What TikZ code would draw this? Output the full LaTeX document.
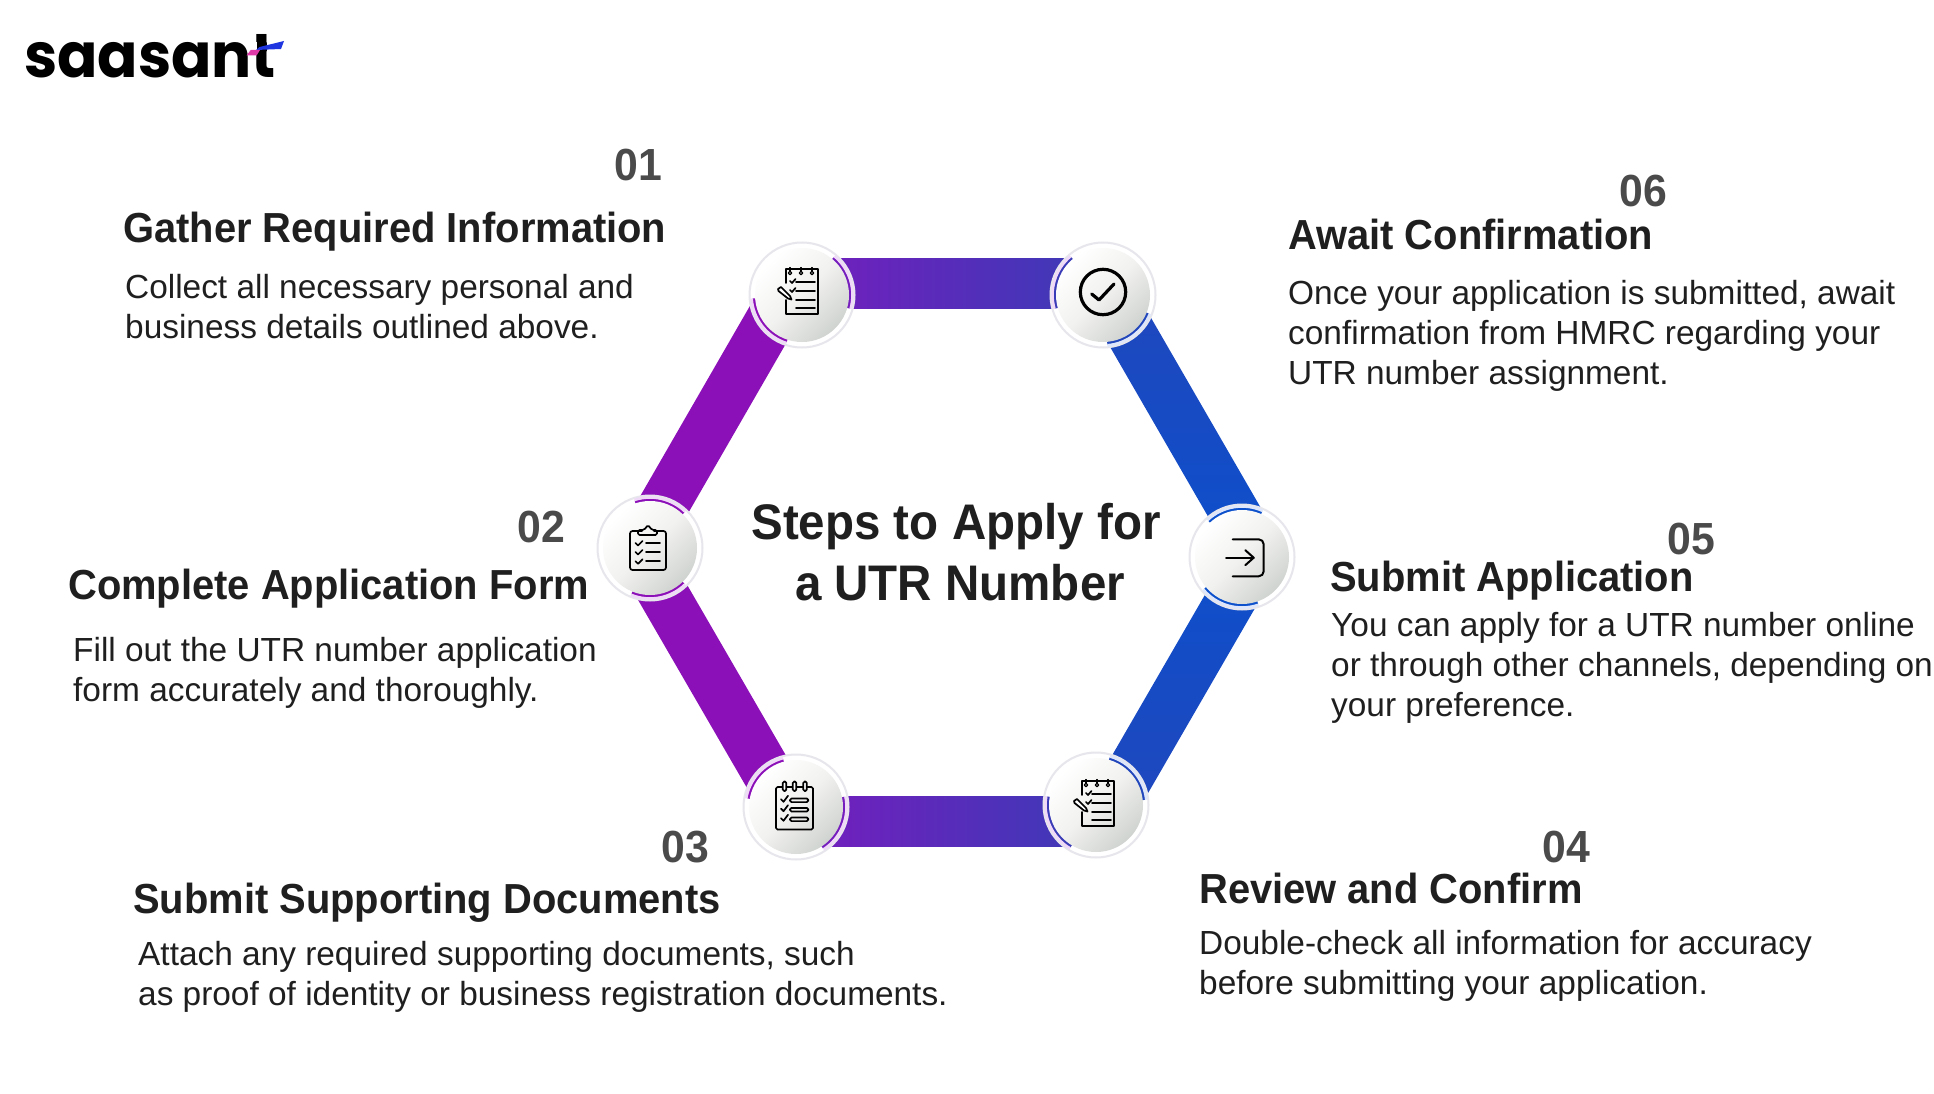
\documentclass[tikz,border=0pt]{standalone}
\usepackage{fontspec}
\setmainfont{Liberation Sans}
\newfontfamily\logofont{Poppins}[FakeStretch=0.96]
\newfontfamily\headfont{Liberation Sans}[FakeStretch=0.95]
\usetikzlibrary{calc,arrows.meta}

\definecolor{numgray}{HTML}{4A4A4A}
\definecolor{inkgray}{HTML}{1F1F1F}
\definecolor{palepurple}{HTML}{F0D8F8}
\definecolor{paleblue}{HTML}{DDE6FA}
\definecolor{barviolet}{HTML}{8C10B8}
\definecolor{barpurple}{HTML}{761DBE}
\definecolor{barindigo}{HTML}{3A3BB6}
\definecolor{barcobalt}{HTML}{2146BC}
\definecolor{barblue}{HTML}{0C50CC}
\definecolor{rimgray}{HTML}{E6E6EC}
\definecolor{facegray}{HTML}{CFD3CF}
\definecolor{facemid}{HTML}{F1F1EF}
\definecolor{logoblue}{HTML}{1E35E0}
\definecolor{logopink}{HTML}{E03AA8}

\tikzset{
  hub/.style={circle,minimum size=94pt,inner sep=0pt,top color=white,bottom color=facegray,middle color=facemid,shading angle=45},
  rimline/.style={draw=rimgray,line width=2pt,fill=white},
  stepnum/.style={font=\headfont\bfseries\fontsize{45}{45}\selectfont,text=numgray,inner sep=0pt},
  steptitle/.style={anchor=base west,font=\headfont\bfseries\fontsize{42}{42}\selectfont,text=inkgray,inner sep=0pt},
  stepbody/.style={anchor=base west,align=left,font=\fontsize{33.4}{40}\selectfont,text=inkgray,inner sep=0pt},
  maintitle/.style={anchor=base,font=\headfont\bfseries\fontsize{50}{50}\selectfont,text=inkgray,inner sep=0pt},
  icon/.style={draw=black,line width=1.7pt,line cap=round,line join=round},
  notepad/.pic={
    \draw[icon] (-16,12) -- (-16,26) -- (16,26) -- (16,-19) -- (-16,-19) -- (-16,-5);
    \foreach \r in {-12,-1,10} {\draw[icon,fill=white,line width=1.2pt] (\r,22) circle (1.7); \draw[icon,line width=1.2pt] (\r,24) -- (\r,27.5);}
    \draw[icon] (-12,14) -- (-10,12) -- (-6.5,16);
    \draw[icon] (-12,5) -- (-10,3) -- (-6.5,7);
    \foreach \l in {13,4.3,-4.7,-13.3} {\draw[icon] (-6,\l) -- (13,\l);}
    \draw[icon,fill=white] (-24,6) -- (-21,8) -- (-12,-1) -- (-10.5,-4.5) -- (-14,-3.5) -- (-23.5,4) -- cycle;
  },
  clipboard/.pic={
    \draw[icon,rounded corners=2.5pt] (-8,17) -- (-20,17) -- (-20,-22) -- (16,-22) -- (16,17) -- (4,17);
    \draw[icon,rounded corners=1.5pt] (-12,13) -- (-12,18) -- (-6,18) -- (-2,23) -- (2,18) -- (7,18) -- (7,13) -- cycle;
    \foreach \l in {5,-4,-13.3} {
      \draw[icon] (-14.5,\l) -- (-12,\l-2.5) -- (-7.5,\l+2);
      \draw[icon] (-4,\l) -- (10,\l);
    }
  },
  listpad/.pic={
    \draw[icon,rounded corners=1.5pt] (-20,-6) -- (-20,20) -- (17,20) -- (17,-22.5) -- (-20,-22.5) -- cycle;
    \foreach \r in {-11.5,-1.5,9} {\draw[icon,fill=white,rounded corners=1.5pt] (\r-1.8,25.5) rectangle (\r+1.8,16);}
    \foreach \l in {6.7,-2.7,-12.3} {
      \draw[icon] (-15,\l+1) -- (-12.5,\l-1.5) -- (-8,\l+4.5);
      \draw[icon,rounded corners=1.5pt] (-6,\l+1.8) rectangle (12.3,\l-1.8);
    }
  },
  signin/.pic={
    \draw[icon,line width=2pt,rounded corners=5pt] (-9.3,17.7) -- (21.7,17.7) -- (21.7,-19.3) -- (-9.3,-19.3);
    \draw[icon,line width=2pt] (-16,-.7) -- (11.7,-.7);
    \draw[icon,line width=2pt] (3.3,6.8) -- (11.7,-.7) -- (3.3,-8.2);
  },
  checkmark/.pic={
    \draw[icon,line width=3.2pt] (0,3) circle (22.7);
    \draw[icon,line width=3.2pt] (-11.3,1) -- (-4,-5) -- (11,11);
  },
}

% band between two corners of the hexagon
\newcommand{\bandlink}[3]{
  \shade[#3]
    ($(#1)!25pt!90:(#2)$) -- ($(#1)!25pt!-90:(#2)$) -- ($(#2)!25pt!90:(#1)$) -- ($(#2)!25pt!-90:(#1)$) -- cycle;
}
% coloured crescent plus pale rim on a hub
\newcommand{\crescent}[5]{
  \draw[#4,line width=4.5pt] ([shift=(#2:47.5)]#1) arc (#2:#3:47.5);
  \draw[#5,line width=2.6pt] ([shift=(#2:50.5)]#1) arc (#2:#3:50.5);
}

\begin{document}
\begin{tikzpicture}[x=1pt,y=1pt]
\useasboundingbox (0,0) rectangle (1934,-1094);
\fill[white] (0,0) rectangle (1934,-1094);

% hexagon corners
\coordinate (v1) at (792,-283);
\coordinate (v2) at (638,-550);
\coordinate (v3) at (795,-821);
\coordinate (v4) at (1103,-821);
\coordinate (v5) at (1258,-553);
\coordinate (v6) at (1102,-283);
% hub centres
\coordinate (c1) at (802,-295);
\coordinate (c2) at (650,-548);
\coordinate (c3) at (796,-807);
\coordinate (c4) at (1096,-805);
\coordinate (c5) at (1242,-557);
\coordinate (c6) at (1103,-295);

\bandlink{v1}{v2}{left color=barviolet,right color=barviolet}
\bandlink{v2}{v3}{left color=barviolet,right color=barviolet}
\bandlink{v3}{v4}{left color=barpurple,right color=barindigo}
\bandlink{v4}{v5}{top color=barblue,bottom color=barcobalt}
\bandlink{v5}{v6}{top color=barcobalt,bottom color=barblue}
\bandlink{v6}{v1}{left color=barpurple,right color=barindigo}

% rims
\foreach \hc in {c1,c2,c3,c4,c5,c6} {\draw[rimline] (\hc) circle (52.5);}
\crescent{c1}{-16}{50}{barpurple}{palepurple}
\crescent{c1}{184}{252}{barviolet}{palepurple}
\crescent{c2}{46}{108}{barviolet}{palepurple}
\crescent{c2}{248}{314}{barviolet}{palepurple}
\crescent{c3}{105}{170}{barviolet}{palepurple}
\crescent{c3}{-57}{12}{barpurple}{palepurple}
\crescent{c4}{170}{239}{barindigo}{palepurple}
\crescent{c4}{6}{74}{barcobalt}{paleblue}
\crescent{c5}{66}{133}{barblue}{paleblue}
\crescent{c5}{220}{289}{barblue}{paleblue}
\crescent{c6}{130}{196}{barindigo}{palepurple}
\crescent{c6}{-85}{-22}{barcobalt}{paleblue}

\node[hub] (h1) at (c1) {};
\node[hub] (h2) at (c2) {};
\node[hub] (h3) at (c3) {};
\node[hub] (h4) at (c4) {};
\node[hub] (h5) at (c5) {};
\node[hub] (h6) at (c6) {};
\pic at (h1) {notepad};
\pic at (h2) {clipboard};
\pic at (h3) {listpad};
\pic at ([shift={(2,-2)}]h4) {notepad};
\pic at (h5) {signin};
\pic at (h6) {checkmark};

% logo
\node[anchor=base west,inner sep=0pt,font=\logofont\bfseries\fontsize{62}{62}\selectfont] (logo) at (24,-78) {saasant};
\fill[white] (251,-42) rectangle (257,-53.5);
\fill[white] (267,-42) rectangle (275,-53.5);
\fill[logoblue] (259.5,-47) -- (284,-41) -- (281,-49) -- (256,-50) -- cycle;
\fill[logopink] (250.7,-50) -- (260,-50) -- (256.7,-55.3) -- (246.7,-55.3) -- cycle;

% centre title
\node[maintitle] (title1) at (956,-539) {Steps to Apply for};
\node[maintitle] (title2) at (960,-600) {a UTR Number};

% steps
\node[stepnum] (n1) at (638,-165) {01};
\node[steptitle] (t1) at (123,-242) {Gather Required Information};
\node[stepbody] (b1) at (125,-338) {Collect all necessary personal and\\business details outlined above.};

\node[stepnum] (n2) at (541,-527) {02};
\node[steptitle] (t2) at (68,-599) {Complete Application Form};
\node[stepbody] (b2) at (73,-701) {Fill out the UTR number application\\form accurately and thoroughly.};

\node[stepnum] (n3) at (685,-847) {03};
\node[steptitle] (t3) at (133,-913) {Submit Supporting Documents};
\node[stepbody] (b3) at (138,-1005) {Attach any required supporting documents, such\\as proof of identity or business registration documents.};

\node[stepnum] (n4) at (1566,-847) {04};
\node[steptitle] (t4) at (1199,-903) {Review and Confirm};
\node[stepbody] (b4) at (1199,-994) {Double-check all information for accuracy\\before submitting your application.};

\node[stepnum] (n5) at (1691,-539) {05};
\node[steptitle] (t5) at (1330,-591) {Submit Application};
\node[stepbody] (b5) at (1331,-716) {You can apply for a UTR number online\\or through other channels, depending on\\your preference.};

\node[stepnum] (n6) at (1643,-191) {06};
\node[steptitle] (t6) at (1288,-249) {Await Confirmation};
\node[stepbody] (b6) at (1288,-384) {Once your application is submitted, await\\confirmation from HMRC regarding your\\UTR number assignment.};
\end{tikzpicture}
\end{document}
